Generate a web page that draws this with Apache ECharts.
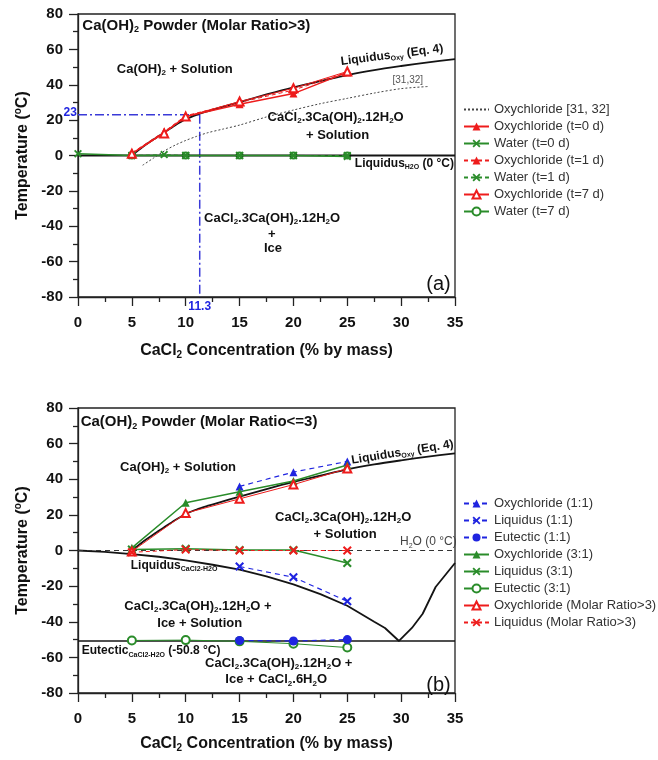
<!DOCTYPE html>
<html>
<head>
<meta charset="utf-8">
<script src="https://cdn.jsdelivr.net/npm/echarts@6/dist/echarts.min.js"></script>
<style>
  html, body { margin: 0; padding: 0; background: #fff; }
  #chart { width: 658px; height: 760px; }
</style>
</head>
<body>
<div id="chart"></div>
<script>
// ---------- data: panel (a) Ca(OH)2 powder, molar ratio > 3 ----------
const liqOxyX = [5, 6, 7, 8, 9, 10, 11, 12, 13, 15, 17.5, 20, 22.5, 25, 27.5, 30, 32.5, 35];
const liqOxyY = [0, 4.8, 9, 13, 17, 20.5, 23, 25, 26.8, 30.2, 34.5, 38.5, 42, 45.5, 48.3, 50.6, 52.7, 54.5];

const litOxyX = [6, 7, 8, 9, 10, 11, 12, 13.5, 15, 17.5, 20, 22.5, 25, 27.5, 30, 32.5];
const litOxyY = [-5.5, -1.5, 2.5, 5.8, 8.5, 10.8, 12.8, 15, 17.2, 21.8, 25.7, 29.3, 32.3, 35.3, 37.8, 39];

const concA = [5, 8, 10, 15, 20, 25];
const oxyT0 = [1, 13, 22, 29, 35, 47];
const oxyT1 = [1.5, 13.5, 22.5, 30, 37, 47];
const oxyT7 = [1, 12.5, 22, 30.5, 38, 47.5];

const waterT0X = [0, 5, 10, 15, 20, 25];
const waterT0 = [1, 0, 0, 0, 0, -0.5];
const waterT1X = [5, 8, 10, 15, 20, 25];
const waterT1 = [0, 0.5, 0, 0, 0, 0];
const waterT7X = [5, 10, 15, 20, 25];
const waterT7 = [0, 0, 0, 0, 0];

const guideConc = 11.3;
const guideTemp = 23;

// ---------- data: panel (b) Ca(OH)2 powder, molar ratio <= 3 ----------
const liqCaClX = [0, 2.5, 5, 7.5, 10, 12.5, 15, 17.5, 20, 22.5, 25, 27.5, 28.5, 29.8, 31, 32, 33.2, 35];
const liqCaClY = [0, -0.8, -2, -3.5, -5.5, -8, -10.8, -14.5, -19, -24.5, -31, -40, -43.5, -50.8, -43.5, -35.5, -20.5, -7];
const eutecticT = -50.8;

const conc11 = [15, 20, 25];
const oxy11 = [36, 44, 50];
const liq11 = [-9, -15, -28.5];
const eut11 = [-50.5, -50.8, -50];

const concB = [5, 10, 15, 20, 25];
const oxy31 = [1.5, 26.8, 33, 39, 48];
const liq31 = [0.5, 1, 0.3, 0.3, -7];
const eut31 = [-50.5, -50.3, -51, -52.3, -54.5];
const oxyMR = [-0.5, 21, 29, 37, 46];
const liqMR = [-1, 0.5, 0, 0, 0];

// ---------- axis ticks ----------
const concTicks = { min: 0, max: 35, interval: 5 };
const tempTicks = { min: -80, max: 80, interval: 20 };

// ---------- styling ----------
const FONT = 'Liberation Sans';
const RED = '#ee1c1c';
const GREEN = '#2a8c2a';
const BLUE = '#1f24e0';
const BLACK = '#141414';
const CROSS = 'path://M0,1.6L1.6,0L5,3.4L8.4,0L10,1.6L6.6,5L10,8.4L8.4,10L5,6.6L1.6,10L0,8.4L3.4,5Z';

const zip = (xs, ys) => xs.map((x, i) => [x, ys[i]]);

function line(name, g, xs, ys, opt) {
  return Object.assign({
    name: name,
    type: 'line',
    xAxisIndex: g,
    yAxisIndex: g,
    data: zip(xs, ys),
    animation: false,
    showSymbol: true,
    emphasis: { disabled: true }
  }, opt);
}

function plainCurve(g, xs, ys, style, smooth, z) {
  return line(undefined, g, xs, ys, {
    symbol: 'none',
    smooth: smooth || false,
    lineStyle: style,
    z: z === undefined ? 2 : z,
    silent: true
  });
}

function mark(color, symbol, size, lineType, width, z) {
  return {
    symbol: symbol,
    symbolSize: size,
    z: z === undefined ? 3 : z,
    itemStyle: { color: color },
    lineStyle: { color: color, width: width, type: lineType }
  };
}

const series = [
  // panel (a) reference curves
  plainCurve(0, liqOxyX, liqOxyY, { color: BLACK, width: 1.8 }, 0.3, 2),
  plainCurve(0, [0, 35], [0, 0], { color: BLACK, width: 1.8 }, false, 2),
  plainCurve(0, [0, guideConc], [guideTemp, guideTemp], { color: '#3a3ad8', width: 1.5, type: [9, 3, 2, 3] }, false, 1),
  plainCurve(0, [guideConc, guideConc], [guideTemp, tempTicks.min], { color: '#3a3ad8', width: 1.5, type: [9, 3, 2, 3] }, false, 1),
  line('Oxychloride [31, 32]', 0, litOxyX, litOxyY, {
    symbol: 'none', smooth: 0.3, z: 2,
    lineStyle: { color: '#444', width: 1, type: [2, 2] }, itemStyle: { color: '#444' }
  }),
  line('Oxychloride (t=0 d)', 0, concA, oxyT0, mark(RED, 'triangle', 8, 'solid', 1.5)),
  line('Water (t=0 d)', 0, waterT0X, waterT0, mark(GREEN, CROSS, 8, 'solid', 1.5)),
  line('Oxychloride (t=1 d)', 0, concA, oxyT1, mark(RED, 'triangle', 8, [4, 3], 1)),
  line('Water (t=1 d)', 0, waterT1X, waterT1, mark(GREEN, CROSS, 8, [4, 3], 1)),
  line('Oxychloride (t=7 d)', 0, concA, oxyT7, mark(RED, 'emptyTriangle', 8, 'solid', 1)),
  line('Water (t=7 d)', 0, waterT7X, waterT7, mark(GREEN, 'emptyCircle', 6, 'solid', 1, 1)),

  // panel (b) reference curves
  plainCurve(1, liqOxyX, liqOxyY, { color: BLACK, width: 1.8 }, 0.3, 1),
  plainCurve(1, liqCaClX, liqCaClY, { color: BLACK, width: 1.8 }, false, 1),
  plainCurve(1, [0, 35], [eutecticT, eutecticT], { color: BLACK, width: 1.5 }, false, 1),
  plainCurve(1, [0, 35], [0, 0], { color: '#333', width: 1, type: [5, 4] }, false, 1),
  line('Oxychloride (1:1)', 1, conc11, oxy11, mark(BLUE, 'triangle', 8, [5, 4], 1.2)),
  line('Liquidus (1:1)', 1, conc11, liq11, mark(BLUE, CROSS, 9, [5, 4], 1.2)),
  line('Eutectic (1:1)', 1, conc11, eut11, mark(BLUE, 'circle', 9, [5, 4], 1.2, 4)),
  line('Oxychloride (3:1)', 1, concB, oxy31, mark(GREEN, 'triangle', 8, 'solid', 1.5)),
  line('Liquidus (3:1)', 1, concB, liq31, mark(GREEN, CROSS, 9, 'solid', 1.5)),
  line('Eutectic (3:1)', 1, concB, eut31, mark(GREEN, 'emptyCircle', 8, 'solid', 1, 2)),
  line('Oxychloride (Molar Ratio>3)', 1, concB, oxyMR, mark(RED, 'emptyTriangle', 8, 'solid', 1)),
  line('Liquidus (Molar Ratio>3)', 1, concB, liqMR, mark(RED, CROSS, 9, [4, 3], 1))
];

const legendA = [{ name: 'Oxychloride [31, 32]', itemStyle: { opacity: 0 } }, 'Oxychloride (t=0 d)', 'Water (t=0 d)',
  'Oxychloride (t=1 d)', 'Water (t=1 d)', 'Oxychloride (t=7 d)', 'Water (t=7 d)'];
const legendB = ['Oxychloride (1:1)', 'Liquidus (1:1)', 'Eutectic (1:1)', 'Oxychloride (3:1)',
  'Liquidus (3:1)', 'Eutectic (3:1)', 'Oxychloride (Molar Ratio>3)', 'Liquidus (Molar Ratio>3)'];

const subRich = {
  s: { fontSize: 10, fontWeight: 'bold', fontFamily: FONT, color: '#111', padding: [9, 0, 0, 0] },
  o: { fontSize: 10, fontWeight: 'bold', fontFamily: FONT, color: '#111', padding: [0, 0, 8, 0] }
};

function xAxis(g) {
  return {
    gridIndex: g, type: 'value',
    min: concTicks.min, max: concTicks.max, interval: concTicks.interval,
    name: 'CaCl{s|2} Concentration (% by mass)',
    nameLocation: 'middle', nameGap: g === 0 ? 44 : 41,
    nameTextStyle: { fontSize: 16, fontWeight: 'bold', fontFamily: FONT, color: '#111', rich: subRich },
    axisLine: { onZero: false, lineStyle: { color: '#222', width: 1.3 } },
    axisTick: { length: 9, lineStyle: { color: '#222', width: 1.3 } },
    minorTick: { show: true, splitNumber: 2, length: 5, lineStyle: { color: '#222', width: 1.3 } },
    axisLabel: { fontSize: 15, fontWeight: 'bold', fontFamily: FONT, color: '#111', margin: 18 },
    splitLine: { show: false }
  };
}

function yAxis(g) {
  return {
    gridIndex: g, type: 'value',
    min: tempTicks.min, max: tempTicks.max, interval: tempTicks.interval,
    name: 'Temperature ({o|o}C)',
    nameLocation: 'middle', nameGap: 45,
    nameTextStyle: { fontSize: 16, fontWeight: 'bold', fontFamily: FONT, color: '#111', rich: subRich },
    axisLine: { onZero: false, lineStyle: { color: '#222', width: 1.3 } },
    axisTick: { length: 9, lineStyle: { color: '#222', width: 1.3 } },
    minorTick: { show: true, splitNumber: 2, length: 5, lineStyle: { color: '#222', width: 1.3 } },
    axisLabel: { fontSize: 15, fontWeight: 'bold', fontFamily: FONT, color: '#111', margin: 15 },
    splitLine: { show: false }
  };
}

function legend(names, top) {
  return {
    data: names, orient: 'vertical', left: 458, top: top,
    itemWidth: 25, itemHeight: 10, itemGap: 4,
    selectedMode: false,
    textStyle: { fontSize: 13, fontFamily: FONT, color: '#333' }
  };
}

const chart = echarts.init(document.getElementById('chart'), null, { renderer: 'canvas' });
chart.setOption({
  animation: false,
  backgroundColor: '#fff',
  textStyle: { fontFamily: FONT },
  grid: [
    { left: 78, top: 14, width: 377, height: 283, show: true, borderColor: '#222', borderWidth: 1.3 },
    { left: 78, top: 408, width: 377, height: 285, show: true, borderColor: '#222', borderWidth: 1.3 }
  ],
  xAxis: [xAxis(0), xAxis(1)],
  yAxis: [yAxis(0), yAxis(1)],
  legend: [legend(legendA, 98), legend(legendB, 492)],
  series: series
});

// ---------- region labels, placed in data coordinates ----------
const notes = [
  { g: 0, x: 0.4, y: 73.5, t: 'Ca(OH){s|2} Powder (Molar Ratio>3)', size: 15 },
  { g: 0, x: 3.6, y: 48.9, t: 'Ca(OH){s|2} + Solution', size: 13 },
  { g: 0, x: 24.4, y: 53, t: 'Liquidus{s|Oxy} (Eq. 4)', size: 12, rot: 0.13 },
  { g: 0, x: 29.2, y: 42.5, t: '[31,32]', size: 10, weight: 'normal', color: '#555' },
  { g: 0, x: 17.6, y: 21.5, t: 'CaCl{s|2}.3Ca(OH){s|2}.12H{s|2}O', size: 13 },
  { g: 0, x: 24.1, y: 11.5, t: '+ Solution', size: 13, align: 'center' },
  { g: 0, x: 25.7, y: -4.5, t: 'Liquidus{s|H2O} (0 °C)', size: 12 },
  { g: 0, x: 11.7, y: -35.5, t: 'CaCl{s|2}.3Ca(OH){s|2}.12H{s|2}O', size: 13 },
  { g: 0, x: 18, y: -44.9, t: '+', size: 13, align: 'center' },
  { g: 0, x: 18.1, y: -52.4, t: 'Ice', size: 13, align: 'center' },
  { g: 0, x: 34.6, y: -73, t: '(a)', size: 20, weight: 'normal', align: 'right' },
  { g: 0, x: -0.1, y: 24.3, t: String(guideTemp), size: 12, color: BLUE, align: 'right' },
  { g: 0, x: guideConc, y: -85.5, t: String(guideConc), size: 12, color: BLUE, align: 'center' },

  { g: 1, x: 0.25, y: 72, t: 'Ca(OH){s|2} Powder (Molar Ratio<=3)', size: 15 },
  { g: 1, x: 3.9, y: 46.8, t: 'Ca(OH){s|2} + Solution', size: 13 },
  { g: 1, x: 25.4, y: 50.5, t: 'Liquidus{s|Oxy} (Eq. 4)', size: 12, rot: 0.16 },
  { g: 1, x: 18.3, y: 18.7, t: 'CaCl{s|2}.3Ca(OH){s|2}.12H{s|2}O', size: 13 },
  { g: 1, x: 24.8, y: 9, t: '+ Solution', size: 13, align: 'center' },
  { g: 1, x: 29.9, y: 4.7, t: 'H{s|2}O (0 °C)', size: 12, weight: 'normal', color: '#444' },
  { g: 1, x: 4.9, y: -8.4, t: 'Liquidus{s|CaCl2-H2O}', size: 12 },
  { g: 1, x: 4.3, y: -31.4, t: 'CaCl{s|2}.3Ca(OH){s|2}.12H{s|2}O +', size: 13 },
  { g: 1, x: 11.3, y: -40.8, t: 'Ice + Solution', size: 13, align: 'center' },
  { g: 1, x: 0.35, y: -56.5, t: 'Eutectic{s|CaCl2-H2O} (-50.8 °C)', size: 12 },
  { g: 1, x: 11.8, y: -63.3, t: 'CaCl{s|2}.3Ca(OH){s|2}.12H{s|2}O +', size: 13 },
  { g: 1, x: 18.4, y: -72.6, t: 'Ice + CaCl{s|2}.6H{s|2}O', size: 13, align: 'center' },
  { g: 1, x: 34.6, y: -76, t: '(b)', size: 20, weight: 'normal', align: 'right' }
];

const graphics = notes.map(n => {
  const p = chart.convertToPixel({ xAxisIndex: n.g, yAxisIndex: n.g }, [n.x, n.y]);
  const weight = n.weight || 'bold';
  const color = n.color || '#111';
  return {
    type: 'text',
    x: p[0], y: p[1],
    rotation: n.rot || 0,
    silent: true,
    z: 50,
    style: {
      text: n.t,
      x: 0, y: 0,
      fill: color,
      fontSize: n.size,
      fontWeight: weight,
      fontFamily: FONT,
      align: n.align || 'left',
      verticalAlign: 'middle',
      rich: {
        s: {
          fontSize: Math.round(n.size * 0.62),
          fontWeight: weight,
          fontFamily: FONT,
          fill: color,
          padding: [Math.round(n.size * 0.55), 0, 0, 0]
        }
      }
    }
  };
});
chart.setOption({ graphic: graphics });
</script>
</body>
</html>
